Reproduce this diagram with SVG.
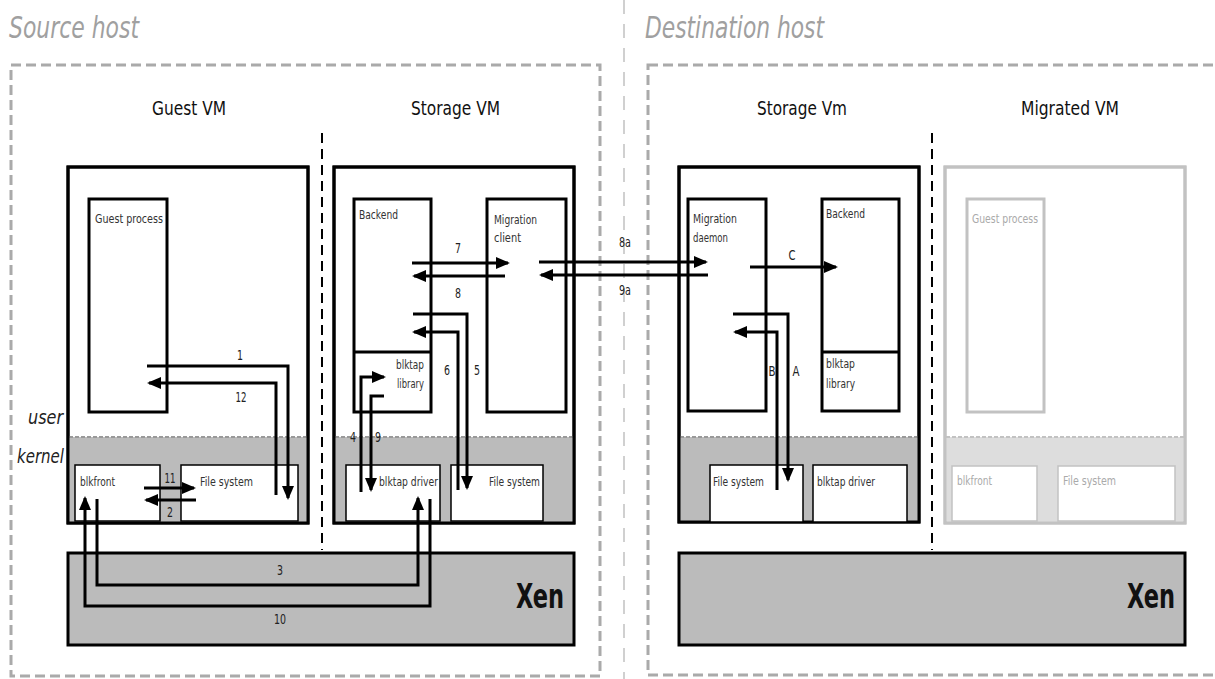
<svg xmlns="http://www.w3.org/2000/svg" width="1215" height="679" viewBox="0 0 1215 679">
<style>
.frame{fill:none;stroke:#aaa;stroke-width:3;stroke-dasharray:10 5}
.div{stroke:#000;stroke-width:2;stroke-dasharray:10 6}
.vm{fill:#fff;stroke:#000;stroke-width:3}
.vmo{fill:none;stroke:#000;stroke-width:3}
.kern{fill:#bbb}
.kline{stroke:#999;stroke-width:2;stroke-dasharray:4 2}
.box{fill:#fff;stroke:#000;stroke-width:3}
.kbox{fill:#fff;stroke:#000;stroke-width:1.5}
.g .vm,.g .vmo,.g .box,.g .kbox{stroke:#c2c2c2}
.g .kern{fill:#ddd}
.g .kline{stroke:#c2c2c2}
.xen{fill:#bbb;stroke:#000;stroke-width:3}
text{font-family:"DejaVu Sans Condensed","DejaVu Sans",sans-serif}
.host{font-size:30px;font-style:italic;fill:#a0a0a0}
.title{font-size:20px;fill:#111}
.lbl{font-size:13px;fill:#333}
.g .lbl{fill:#aaa}
.num{font-size:14px;fill:#222;text-anchor:middle}
.xent{font-size:34px;font-weight:bold;fill:#111;text-anchor:end}
.uk{font-size:20px;font-style:italic;fill:#222}
.arr{fill:none;stroke:#000;stroke-width:3;marker-end:url(#ah)}
.ln{fill:none;stroke:#000;stroke-width:3}
</style>
<defs>
<marker id="ah" markerUnits="userSpaceOnUse" markerWidth="14" markerHeight="14" viewBox="0 0 14 14" refX="12" refY="7" orient="auto">
<path d="M0,1 L14,7 L0,13 z" fill="#000"/>
</marker>
</defs>
<rect width="1215" height="679" fill="#fff"/>

<g id="frames">
<rect class="frame" x="11" y="65" width="589" height="611"/>
<rect class="frame" x="648" y="65" width="600" height="610"/>
<line x1="624" y1="0" x2="624" y2="679" stroke="#d0d0d0" stroke-width="2" stroke-dasharray="14 10"/>
<line class="div" x1="322" y1="133" x2="322" y2="550"/>
<line class="div" x1="932" y1="133" x2="932" y2="550"/>
<text class="host" x="9" y="38" textLength="130" lengthAdjust="spacingAndGlyphs">Source host</text>
<text class="host" x="645" y="38" textLength="179" lengthAdjust="spacingAndGlyphs">Destination host</text>
<text class="uk" x="28" y="424" textLength="35" lengthAdjust="spacingAndGlyphs">user</text>
<text class="uk" x="17" y="463" textLength="47" lengthAdjust="spacingAndGlyphs">kernel</text>
</g>

<g id="guest-vm">
<text class="title" x="152" y="115" textLength="74" lengthAdjust="spacingAndGlyphs">Guest VM</text>
<rect class="vm" x="68" y="167" width="240" height="356"/>
<rect class="kern" x="68" y="437" width="240" height="86"/>
<line class="kline" x1="69" y1="437" x2="307" y2="437"/>
<rect class="vmo" x="68" y="167" width="240" height="356"/>
<rect class="box" x="89" y="199" width="78" height="213"/>
<text class="lbl" x="95" y="223" textLength="68" lengthAdjust="spacingAndGlyphs">Guest process</text>
<rect class="kbox" x="75" y="465" width="85" height="56"/>
<text class="lbl" x="80" y="486" textLength="35" lengthAdjust="spacingAndGlyphs">blkfront</text>
<rect class="kbox" x="181" y="465" width="117" height="56"/>
<text class="lbl" x="200" y="486" textLength="53" lengthAdjust="spacingAndGlyphs">File system</text>
</g>

<g id="storage-vm">
<text class="title" x="411" y="115" textLength="89" lengthAdjust="spacingAndGlyphs">Storage VM</text>
<rect class="vm" x="334" y="167" width="240" height="356"/>
<rect class="kern" x="334" y="437" width="240" height="86"/>
<line class="kline" x1="335" y1="437" x2="573" y2="437"/>
<rect class="vmo" x="334" y="167" width="240" height="356"/>
<rect class="box" x="354" y="199" width="77" height="213"/>
<line class="ln" x1="354" y1="352" x2="431" y2="352"/>
<text class="lbl" x="359" y="219" textLength="39" lengthAdjust="spacingAndGlyphs">Backend</text>
<text class="lbl" x="396" y="369" textLength="28" lengthAdjust="spacingAndGlyphs">blktap</text>
<text class="lbl" x="397" y="388" textLength="27" lengthAdjust="spacingAndGlyphs">library</text>
<rect class="box" x="487" y="199" width="79" height="213"/>
<text class="lbl" x="494" y="224" textLength="43" lengthAdjust="spacingAndGlyphs">Migration</text>
<text class="lbl" x="494" y="242" textLength="27" lengthAdjust="spacingAndGlyphs">client</text>
<rect class="kbox" x="346" y="465" width="94" height="56"/>
<text class="lbl" x="379" y="486" textLength="59" lengthAdjust="spacingAndGlyphs">blktap driver</text>
<rect class="kbox" x="451" y="465" width="92" height="56"/>
<text class="lbl" x="489" y="486" textLength="51" lengthAdjust="spacingAndGlyphs">File system</text>
</g>

<g id="xen-source">
<rect class="xen" x="68" y="553" width="506" height="92"/>
<text class="xent" x="564" y="608" textLength="48" lengthAdjust="spacingAndGlyphs">Xen</text>
</g>

<g id="dest-storage-vm">
<text class="title" x="757" y="115" textLength="90" lengthAdjust="spacingAndGlyphs">Storage Vm</text>
<rect class="vm" x="679" y="167" width="240" height="355"/>
<rect class="kern" x="679" y="437" width="240" height="85"/>
<line class="kline" x1="680" y1="437" x2="918" y2="437"/>
<rect class="vmo" x="679" y="167" width="240" height="355"/>
<rect class="box" x="688" y="199" width="78" height="212"/>
<text class="lbl" x="693" y="223" textLength="44" lengthAdjust="spacingAndGlyphs">Migration</text>
<text class="lbl" x="693" y="242" textLength="35" lengthAdjust="spacingAndGlyphs">daemon</text>
<rect class="box" x="822" y="199" width="77" height="212"/>
<line class="ln" x1="822" y1="352" x2="899" y2="352"/>
<text class="lbl" x="826" y="218" textLength="39" lengthAdjust="spacingAndGlyphs">Backend</text>
<text class="lbl" x="826" y="368" textLength="29" lengthAdjust="spacingAndGlyphs">blktap</text>
<text class="lbl" x="826" y="388" textLength="29" lengthAdjust="spacingAndGlyphs">library</text>
<rect class="kbox" x="710" y="465" width="93" height="57"/>
<text class="lbl" x="713" y="486" textLength="51" lengthAdjust="spacingAndGlyphs">File system</text>
<rect class="kbox" x="813" y="465" width="94" height="57"/>
<text class="lbl" x="817" y="486" textLength="58" lengthAdjust="spacingAndGlyphs">blktap driver</text>
</g>

<g id="migrated-vm" class="g">
<text class="title" x="1021" y="115" textLength="98" lengthAdjust="spacingAndGlyphs">Migrated VM</text>
<rect class="vm" x="945" y="167" width="240" height="356"/>
<rect class="kern" x="946.5" y="437" width="237" height="84.5"/>
<line class="kline" x1="946" y1="437" x2="1184" y2="437"/>
<rect class="vmo" x="945" y="167" width="240" height="356"/>
<rect class="box" x="967" y="199" width="77" height="213"/>
<text class="lbl" x="972" y="223" textLength="66" lengthAdjust="spacingAndGlyphs">Guest process</text>
<rect class="kbox" x="952" y="466" width="85" height="55"/>
<text class="lbl" x="957" y="485" textLength="35" lengthAdjust="spacingAndGlyphs">blkfront</text>
<rect class="kbox" x="1058" y="466" width="117" height="55"/>
<text class="lbl" x="1063" y="485" textLength="53" lengthAdjust="spacingAndGlyphs">File system</text>
</g>

<g id="xen-dest">
<rect class="xen" x="679" y="553" width="506" height="92"/>
<text class="xent" x="1175" y="608" textLength="48" lengthAdjust="spacingAndGlyphs">Xen</text>
</g>

<g id="connectors">
<path class="arr" d="M147,366 H288 V498"/>
<path class="arr" d="M276,495 V383 H149"/>
<path class="arr" d="M144,488 H194"/>
<path class="arr" d="M196,500 H146"/>
<path class="arr" d="M97,499 V585 H418 V498"/>
<path class="arr" d="M430,499 V606 H85 V498"/>
<path class="arr" d="M361,492 V377 H384"/>
<path class="arr" d="M384,396 H371 V490"/>
<path class="arr" d="M412,263 H508"/>
<path class="arr" d="M505,276 H414"/>
<path class="arr" d="M413,314 H467 V488"/>
<path class="arr" d="M458,490 V332 H414"/>
<path class="arr" d="M539,262 H706"/>
<path class="arr" d="M708,275 H541"/>
<path class="arr" d="M750,267 H836"/>
<path class="arr" d="M733,314 H788 V480"/>
<path class="arr" d="M777,490 V332 H735"/>
<text class="num" x="240" y="360" textLength="6" lengthAdjust="spacingAndGlyphs">1</text>
<text class="num" x="241" y="402" textLength="11" lengthAdjust="spacingAndGlyphs">12</text>
<text class="num" x="170" y="483" textLength="11" lengthAdjust="spacingAndGlyphs">11</text>
<text class="num" x="170" y="517" textLength="6" lengthAdjust="spacingAndGlyphs">2</text>
<text class="num" x="280" y="575" textLength="6" lengthAdjust="spacingAndGlyphs">3</text>
<text class="num" x="280" y="624" textLength="12" lengthAdjust="spacingAndGlyphs">10</text>
<text class="num" x="458" y="253" textLength="6" lengthAdjust="spacingAndGlyphs">7</text>
<text class="num" x="458" y="298" textLength="6" lengthAdjust="spacingAndGlyphs">8</text>
<text class="num" x="447" y="375" textLength="6" lengthAdjust="spacingAndGlyphs">6</text>
<text class="num" x="477" y="375" textLength="6" lengthAdjust="spacingAndGlyphs">5</text>
<text class="num" x="353" y="442" textLength="6" lengthAdjust="spacingAndGlyphs">4</text>
<text class="num" x="378" y="442" textLength="6" lengthAdjust="spacingAndGlyphs">9</text>
<text class="num" x="625" y="247" textLength="12" lengthAdjust="spacingAndGlyphs">8a</text>
<text class="num" x="625" y="295" textLength="12" lengthAdjust="spacingAndGlyphs">9a</text>
<text class="num" x="792" y="260" textLength="7" lengthAdjust="spacingAndGlyphs">C</text>
<text class="num" x="772" y="376" textLength="7" lengthAdjust="spacingAndGlyphs">B</text>
<text class="num" x="796" y="376" textLength="7" lengthAdjust="spacingAndGlyphs">A</text>
</g>
</svg>
